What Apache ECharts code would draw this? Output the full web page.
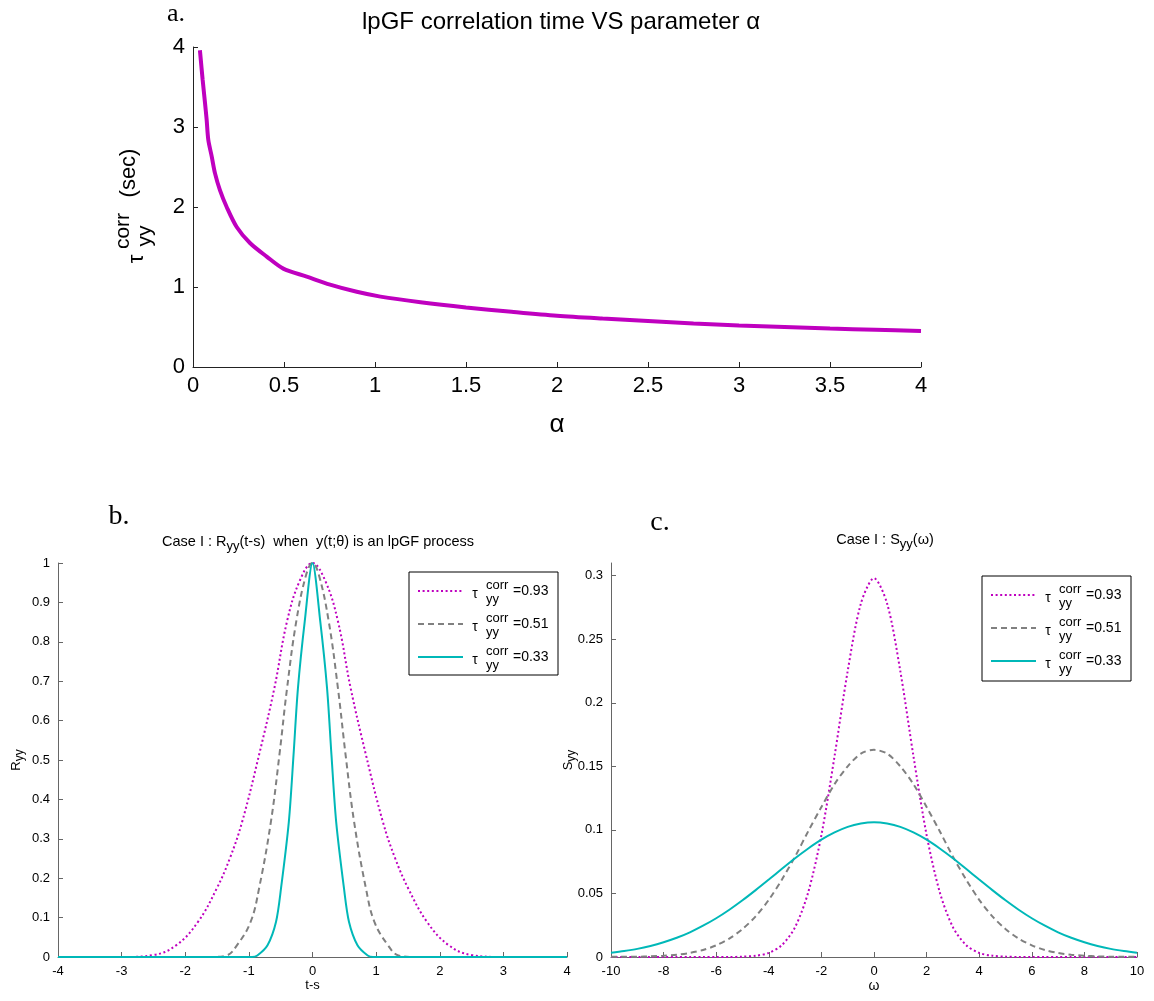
<!DOCTYPE html>
<html>
<head>
<meta charset="utf-8">
<script src="https://cdn.jsdelivr.net/npm/echarts@6.0.0/dist/echarts.min.js"></script>
<style>
  html, body { margin: 0; padding: 0; background: #fff; }
  #chart { width: 1154px; height: 1001px; }
</style>
</head>
<body>
<div id="chart"></div>
<script>
// ---- (a) lpGF correlation time against alpha ----
const alphaVals = [0.038, 0.053, 0.066, 0.075, 0.084, 0.103, 0.121, 0.148, 0.185, 0.24, 0.313, 0.405, 0.496, 0.625, 0.753, 0.9, 1.03, 1.25, 1.5, 1.75, 2.0, 2.25, 2.5, 2.75, 3.0, 3.25, 3.5, 3.75, 4.0];
const tauVals   = [3.96, 3.59, 3.30, 3.09, 2.84, 2.63, 2.42, 2.21, 2.00, 1.75, 1.55, 1.38, 1.23, 1.13, 1.03, 0.94, 0.88, 0.81, 0.745, 0.69, 0.64, 0.605, 0.575, 0.545, 0.52, 0.50, 0.48, 0.465, 0.45];

// ---- (b) autocorrelation R_yy(t-s) ----
const lagMag  = [-4, -3, -2.5, -2.14, -1.8, -1.505, -1.3, -1.106, -0.84, -0.6, -0.4, -0.2, 0, 0.2, 0.4, 0.6, 0.84, 1.106, 1.3, 1.505, 1.8, 2.14, 2.5, 3, 4];
const rMag    = [0, 0, 0.005, 0.03, 0.089, 0.174, 0.25, 0.343, 0.513, 0.682, 0.852, 0.955, 1, 0.955, 0.852, 0.682, 0.513, 0.343, 0.25, 0.174, 0.089, 0.03, 0.005, 0, 0];
const lagGray = [-4, -1.6, -1.35, -1.186, -0.973, -0.84, -0.654, -0.52, -0.4, -0.255, -0.1, 0, 0.1, 0.255, 0.4, 0.52, 0.654, 0.84, 0.973, 1.186, 1.35, 1.6, 4];
const rGray   = [0, 0, 0.004, 0.03, 0.089, 0.174, 0.343, 0.513, 0.682, 0.852, 0.97, 1, 0.97, 0.852, 0.682, 0.513, 0.343, 0.174, 0.089, 0.03, 0.004, 0, 0];
const lagCyan = [-4, -0.95, -0.867, -0.707, -0.574, -0.495, -0.372, -0.298, -0.229, -0.122, 0, 0.122, 0.229, 0.298, 0.372, 0.495, 0.574, 0.707, 0.867, 0.95, 4];
const rCyan   = [0, 0, 0.004, 0.03, 0.089, 0.174, 0.343, 0.513, 0.682, 0.852, 1, 0.852, 0.682, 0.513, 0.343, 0.174, 0.089, 0.03, 0.004, 0, 0];

// ---- (c) spectral density S_yy(omega) ----
const omega = [-10, -9.5, -9, -8.5, -8, -7.5, -7, -6.5, -6, -5.5, -5, -4.5, -4, -3.5, -3, -2.5, -2, -1.5, -1, -0.5, 0,
               0.5, 1, 1.5, 2, 2.5, 3, 3.5, 4, 4.5, 5, 5.5, 6, 6.5, 7, 7.5, 8, 8.5, 9, 9.5, 10];
const sMag  = [0, 0, 0, 0, 0, 0, 0, 0, 0, 0, 0.0003, 0.001, 0.0032, 0.0094, 0.0235, 0.051, 0.096, 0.158, 0.225, 0.278, 0.298,
               0.278, 0.225, 0.158, 0.096, 0.051, 0.0235, 0.0094, 0.0032, 0.001, 0.0003, 0, 0, 0, 0, 0, 0, 0, 0, 0, 0];
const sGray = [0.0001, 0.0001, 0.0002, 0.0005, 0.001, 0.0018, 0.0032, 0.0055, 0.0092, 0.0145, 0.022, 0.032, 0.045, 0.061, 0.079, 0.099, 0.118, 0.136, 0.150, 0.160, 0.163,
               0.160, 0.150, 0.136, 0.118, 0.099, 0.079, 0.061, 0.045, 0.032, 0.022, 0.0145, 0.0092, 0.0055, 0.0032, 0.0018, 0.001, 0.0005, 0.0002, 0.0001, 0.0001];
const sCyan = [0.0033, 0.0047, 0.0064, 0.0087, 0.0116, 0.0151, 0.0194, 0.0246, 0.0305, 0.0372, 0.0446, 0.0526, 0.0609, 0.0694, 0.0777, 0.0854, 0.0923, 0.098, 0.1024, 0.105, 0.106,
               0.105, 0.1024, 0.098, 0.0923, 0.0854, 0.0777, 0.0694, 0.0609, 0.0526, 0.0446, 0.0372, 0.0305, 0.0246, 0.0194, 0.0151, 0.0116, 0.0087, 0.0064, 0.0047, 0.0033];

// legend entries (correlation times)
const legendTau = ['0.93', '0.51', '0.33'];
// tick values
const sTicks = [0, 0.05, 0.1, 0.15, 0.2, 0.25, 0.3];

const SANS = 'Liberation Sans, Arial, Helvetica, sans-serif';
const SERIF = 'Liberation Serif, Times New Roman, serif';
const MAG = '#bf00bf', GRAY = '#808080', CYAN = '#00b8b8';
const curveStyles = [
  { color: MAG,  dash: [2, 2.6], width: 2 },
  { color: GRAY, dash: [6, 4],   width: 2 },
  { color: CYAN, dash: 'solid',  width: 2 }
];

const zip = (xs, ys) => xs.map((x, i) => [x, ys[i]]);

function axisBase(fontSize, lineColor) {
  return {
    axisLine: { show: true, onZero: false, lineStyle: { color: lineColor, width: 1 } },
    axisTick: { show: true, inside: true, length: 5, lineStyle: { color: lineColor } },
    axisLabel: { color: '#000', fontSize: fontSize, fontFamily: SANS },
    splitLine: { show: false },
    nameTextStyle: { color: '#000', fontFamily: SANS }
  };
}

// legend box with line samples and tau^corr_yy labels
function legendBox(x0, y0, h) {
  const els = [{
    type: 'rect', shape: { x: x0, y: y0, width: 149, height: h },
    style: { fill: '#fff', stroke: '#000', lineWidth: 1 }
  }];
  legendTau.forEach((v, i) => {
    const ry = y0 + 19 + i * 33;
    const st = curveStyles[i];
    els.push({
      type: 'line', shape: { x1: x0 + 9, y1: ry, x2: x0 + 54, y2: ry },
      style: { stroke: st.color, lineWidth: st.width, lineDash: st.dash === 'solid' ? null : st.dash }
    });
    els.push({ type: 'text', x: x0 + 66, y: ry + 3, style: { text: 'τ', fontSize: 14, fontFamily: SANS, fill: '#000', align: 'center', verticalAlign: 'middle' } });
    els.push({ type: 'text', x: x0 + 77, y: ry - 6, style: { text: 'corr', fontSize: 13, fontFamily: SANS, fill: '#000', align: 'left', verticalAlign: 'middle' } });
    els.push({ type: 'text', x: x0 + 77, y: ry + 8, style: { text: 'yy', fontSize: 13, fontFamily: SANS, fill: '#000', align: 'left', verticalAlign: 'middle' } });
    els.push({ type: 'text', x: x0 + 104, y: ry, style: { text: '=' + v, fontSize: 14, fontFamily: SANS, fill: '#000', align: 'left', verticalAlign: 'middle' } });
  });
  return els;
}

function rotText(x, y, text, size) {
  return { type: 'text', x: x, y: y, rotation: Math.PI / 2,
    style: { text: text, fontSize: size, fontFamily: SANS, fill: '#000', align: 'center', verticalAlign: 'middle' } };
}

function subRich(big, small) {
  return {
    n: { fontSize: big, fontFamily: SANS, fontWeight: 'normal', color: '#000', lineHeight: big + 7, verticalAlign: 'middle' },
    s: { fontSize: small, fontFamily: SANS, fontWeight: 'normal', color: '#000', lineHeight: small, verticalAlign: 'bottom' }
  };
}

const chart = echarts.init(document.getElementById('chart'), null, { renderer: 'canvas' });

const option = {
  backgroundColor: '#fff',
  animation: false,
  title: [
    { text: 'lpGF correlation time VS parameter α', left: 556, top: 5, textAlign: 'center',
      textStyle: { fontSize: 24, fontWeight: 'normal', fontFamily: SANS, color: '#000' } },
    { text: '{n|Case I : R}{s|yy}{n|(t-s)  when  y(t;θ) is an lpGF process}', left: 313, top: 526, textAlign: 'center',
      textStyle: { fontWeight: 'normal', rich: subRich(14.5, 13) } },
    { text: '{n|Case I : S}{s|yy}{n|(ω)}', left: 880, top: 524, textAlign: 'center',
      textStyle: { fontWeight: 'normal', rich: subRich(14.5, 13) } }
  ],
  grid: [
    { left: 193, right: 1154 - 921, top: 47, bottom: 1001 - 367, containLabel: false, outerBoundsMode: 'none' },
    { left: 58, right: 1154 - 567, top: 563, bottom: 1001 - 957, containLabel: false, outerBoundsMode: 'none' },
    { left: 611, right: 1154 - 1137, top: 563, bottom: 1001 - 957, containLabel: false, outerBoundsMode: 'none' }
  ],
  xAxis: [
    Object.assign(axisBase(22, '#222'), {
      gridIndex: 0, type: 'value', min: 0, max: 4, interval: 0.5,
      name: 'α', nameLocation: 'middle', nameGap: 45,
      nameTextStyle: { fontSize: 26, fontFamily: SANS, color: '#000' }
    }),
    Object.assign(axisBase(13, '#666'), {
      gridIndex: 1, type: 'value', min: -4, max: 4, interval: 1,
      name: 't-s', nameLocation: 'middle', nameGap: 16,
      nameTextStyle: { fontSize: 13, fontFamily: SANS, color: '#000' }
    }),
    Object.assign(axisBase(13, '#666'), {
      gridIndex: 2, type: 'value', min: -10, max: 10, interval: 2,
      name: 'ω', nameLocation: 'middle', nameGap: 17,
      nameTextStyle: { fontSize: 14, fontFamily: SANS, color: '#000' }
    })
  ],
  yAxis: [
    Object.assign(axisBase(22, '#222'), {
      gridIndex: 0, type: 'value', min: 0, max: 4, interval: 1
    }),
    Object.assign(axisBase(13, '#666'), {
      gridIndex: 1, type: 'value', min: 0, max: 1, interval: 0.1,
      name: '{n|R}{s|yy}', nameLocation: 'middle', nameGap: 32, nameRotate: 90, nameMoveOverlap: false,
      nameTextStyle: { rich: subRich(13, 12) }
    }),
    (function () {
      const ax = axisBase(13, '#666');
      ax.axisTick.customValues = sTicks;
      ax.axisLabel.customValues = sTicks;
      return Object.assign(ax, {
        gridIndex: 2, type: 'value', min: 0, max: 0.31, interval: 0.05,
        name: '{n|S}{s|yy}', nameLocation: 'middle', nameGap: 33, nameRotate: 90, nameMoveOverlap: false,
        nameTextStyle: { rich: subRich(13, 12) }
      });
    })()
  ],
  series: [
    { type: 'line', xAxisIndex: 0, yAxisIndex: 0, data: zip(alphaVals, tauVals), showSymbol: false,
      smooth: 0.3, lineStyle: { color: MAG, width: 4 } },

    { type: 'line', xAxisIndex: 1, yAxisIndex: 1, data: zip(lagMag, rMag), showSymbol: false, smooth: 0.4,
      lineStyle: { color: MAG, width: 2, type: curveStyles[0].dash } },
    { type: 'line', xAxisIndex: 1, yAxisIndex: 1, data: zip(lagGray, rGray), showSymbol: false, smooth: 0.4,
      lineStyle: { color: GRAY, width: 2, type: curveStyles[1].dash } },
    { type: 'line', xAxisIndex: 1, yAxisIndex: 1, data: zip(lagCyan, rCyan), showSymbol: false, smooth: 0.3,
      lineStyle: { color: CYAN, width: 2, type: 'solid' } },

    { type: 'line', xAxisIndex: 2, yAxisIndex: 2, data: zip(omega, sMag), showSymbol: false, smooth: 0.3,
      lineStyle: { color: MAG, width: 2, type: curveStyles[0].dash } },
    { type: 'line', xAxisIndex: 2, yAxisIndex: 2, data: zip(omega, sGray), showSymbol: false, smooth: 0.3,
      lineStyle: { color: GRAY, width: 2, type: curveStyles[1].dash } },
    { type: 'line', xAxisIndex: 2, yAxisIndex: 2, data: zip(omega, sCyan), showSymbol: false, smooth: 0.3,
      lineStyle: { color: CYAN, width: 2, type: 'solid' } }
  ],
  graphic: [
    { type: 'group', z: 100, children: [
      { type: 'text', x: 176, y: 14, style: { text: 'a.', fontSize: 26, fontFamily: SERIF, fill: '#000', align: 'center', verticalAlign: 'middle' } },
      { type: 'text', x: 119, y: 517, style: { text: 'b.', fontSize: 28, fontFamily: SERIF, fill: '#000', align: 'center', verticalAlign: 'middle' } },
      { type: 'text', x: 660, y: 523, style: { text: 'c.', fontSize: 28, fontFamily: SERIF, fill: '#000', align: 'center', verticalAlign: 'middle' } },
      // rotated y-axis title of panel (a): tau^corr_yy (sec)
      rotText(137, 259, 'τ', 22),
      rotText(123, 231, 'corr', 21),
      rotText(145, 236, 'yy', 21),
      rotText(129, 173, '(sec)', 22)
    ].concat(legendBox(409, 572, 103), legendBox(982, 576, 105)) }
  ]
};

chart.setOption(option);
</script>
</body>
</html>
